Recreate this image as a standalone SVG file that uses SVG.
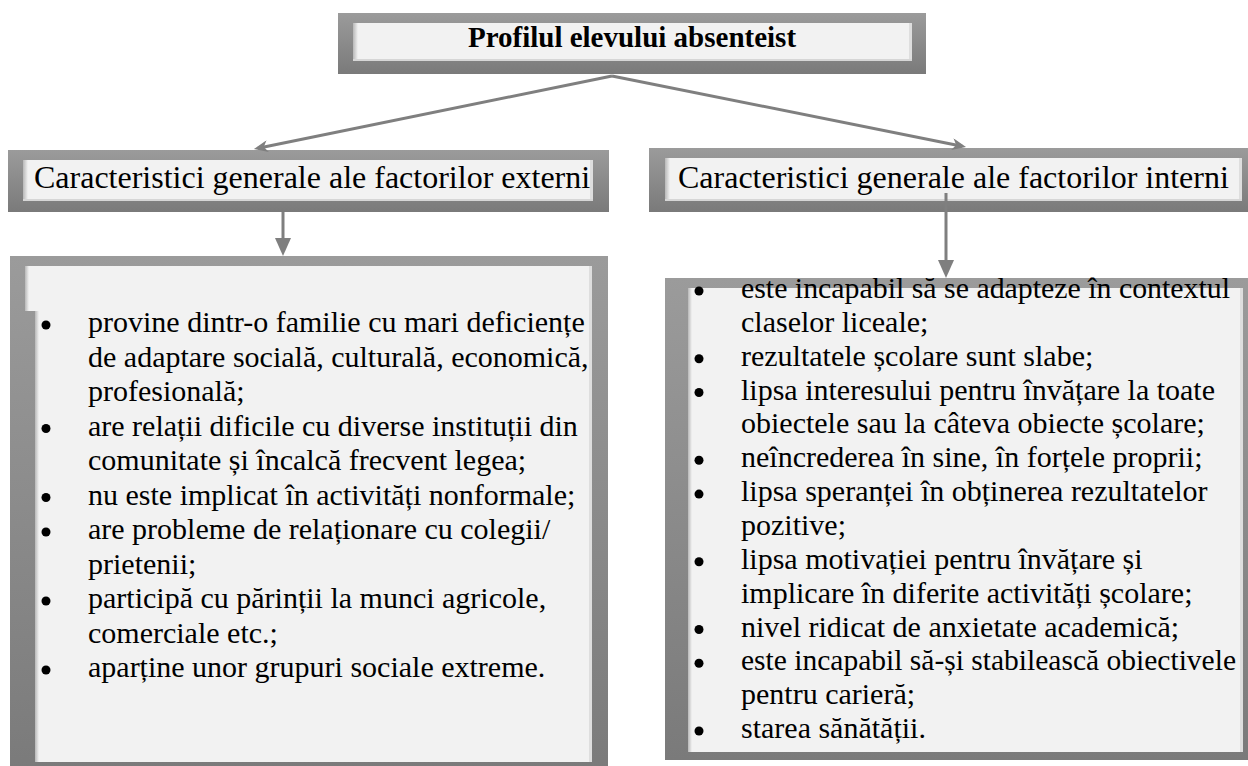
<svg xmlns="http://www.w3.org/2000/svg" width="1248" height="766" viewBox="0 0 1248 766">
<defs>
<linearGradient id="gOuter" x1="0" y1="0" x2="0" y2="1">
<stop offset="0" stop-color="#9b9b9b"/>
<stop offset="1" stop-color="#7a7a7a"/>
</linearGradient>
<linearGradient id="gShadeL" x1="0" y1="0" x2="1" y2="0">
<stop offset="0" stop-color="#b8b8b8"/>
<stop offset="1" stop-color="#f2f2f2"/>
</linearGradient>
<marker id="mDiag" markerUnits="userSpaceOnUse" viewBox="0 0 14 12" refX="10" refY="6" markerWidth="14" markerHeight="12" orient="auto">
<path d="M0,0 L14,6 L0,12 L4,6 z" fill="#7f7f7f"/>
</marker>
<marker id="mDown" markerUnits="userSpaceOnUse" viewBox="0 0 18 16" refX="12" refY="8" markerWidth="18" markerHeight="16" orient="auto">
<path d="M0,0 L18,8 L0,16 z" fill="#7f7f7f"/>
</marker>
</defs>
<style>
.outer{fill:url(#gOuter)}
.inner{fill:#f2f2f2}
.shl{fill:url(#gShadeL)}
.shb{fill:#d6d6d6}
.shr{fill:#dedede}
text{font-family:'Liberation Serif','Times New Roman',Times,serif;fill:#000}
.title{font-size:29px;font-weight:bold;text-anchor:middle}
.hdr{font-size:32px}
.li{font-size:30px}
.bul{fill:#000}
.conn{fill:none;stroke:#7f7f7f;stroke-width:3}
</style>
<rect width="1248" height="766" fill="#fff"/>

<g id="title">
<rect class="outer" x="338" y="13" width="588" height="61"/>
<rect class="inner" x="353" y="23" width="559" height="38"/>
<rect class="shl" x="353" y="23" width="5" height="38"/>
<rect class="shr" x="909" y="23" width="3" height="38"/>
<rect class="shb" x="353" y="59" width="559" height="2"/>
<text class="title" x="632" y="47">Profilul elevului absenteist</text>
</g>

<g id="ext-header">
<rect class="outer" x="8" y="150" width="601" height="62"/>
<rect class="inner" x="23" y="160" width="570" height="41"/>
<rect class="shl" x="23" y="160" width="5" height="41"/>
<rect class="shr" x="590" y="160" width="3" height="41"/>
<rect class="shb" x="23" y="199" width="570" height="2"/>
<text class="hdr" x="34" y="188">Caracteristici generale ale factorilor externi</text>
</g>

<g id="int-header">
<rect class="outer" x="649" y="148" width="608" height="64"/>
<rect class="inner" x="665" y="158" width="577" height="43"/>
<rect class="shl" x="665" y="158" width="5" height="43"/>
<rect class="shr" x="1239" y="158" width="3" height="43"/>
<rect class="shb" x="665" y="199" width="577" height="2"/>
<text class="hdr" x="678" y="188">Caracteristici generale ale factorilor interni</text>
</g>

<g id="ext-list">
<rect class="outer" x="10" y="256" width="598" height="520"/>
<path class="inner" d="M25,266 H592 V762 H35 V311 H25 Z"/>
<rect class="shl" x="25" y="266" width="4" height="45"/>
<rect class="shl" x="35" y="311" width="4" height="451"/>
<rect class="shr" x="589" y="266" width="3" height="496"/>
<g class="bul">
<circle cx="46" cy="325" r="4.5"/>
<circle cx="46" cy="428.5" r="4.5"/>
<circle cx="46" cy="497.5" r="4.5"/>
<circle cx="46" cy="532" r="4.5"/>
<circle cx="46" cy="601" r="4.5"/>
<circle cx="46" cy="670" r="4.5"/>
</g>
<text class="li" x="88" y="332">provine dintr-o familie cu mari deficiențe</text>
<text class="li" x="88" y="366.5">de adaptare socială, culturală, economică,</text>
<text class="li" x="88" y="401">profesională;</text>
<text class="li" x="88" y="435.5">are relații dificile cu diverse instituții din</text>
<text class="li" x="88" y="470">comunitate și încalcă frecvent legea;</text>
<text class="li" x="88" y="504.5">nu este implicat în activități nonformale;</text>
<text class="li" x="88" y="539">are probleme de relaționare cu colegii/</text>
<text class="li" x="88" y="573.5">prietenii;</text>
<text class="li" x="88" y="608">participă cu  părinții la munci agricole,</text>
<text class="li" x="88" y="642.5">comerciale etc.;</text>
<text class="li" x="88" y="677">aparține unor grupuri sociale extreme.</text>
</g>

<g id="int-list">
<rect class="outer" x="665" y="278" width="592" height="482"/>
<rect class="inner" x="688" y="288" width="555" height="464"/>
<rect class="shl" x="688" y="288" width="4" height="464"/>
<rect class="shr" x="1240" y="288" width="3" height="464"/>
<g class="bul">
<circle cx="699" cy="291" r="4.5"/>
<circle cx="699" cy="358.7" r="4.5"/>
<circle cx="699" cy="392.5" r="4.5"/>
<circle cx="699" cy="460.2" r="4.5"/>
<circle cx="699" cy="494.1" r="4.5"/>
<circle cx="699" cy="561.8" r="4.5"/>
<circle cx="699" cy="629.5" r="4.5"/>
<circle cx="699" cy="663.3" r="4.5"/>
<circle cx="699" cy="731" r="4.5"/>
</g>
<text class="li" x="741" y="298" textLength="489" lengthAdjust="spacingAndGlyphs">este incapabil să se adapteze în contextul</text>
<text class="li" x="741" y="331.9">claselor liceale;</text>
<text class="li" x="741" y="365.7">rezultatele școlare sunt slabe;</text>
<text class="li" x="741" y="399.6">lipsa interesului pentru învățare la toate</text>
<text class="li" x="741" y="433.4">obiectele sau la câteva obiecte școlare;</text>
<text class="li" x="741" y="467.2">neîncrederea în sine, în forțele proprii;</text>
<text class="li" x="741" y="501.1">lipsa speranței în obținerea rezultatelor</text>
<text class="li" x="741" y="534.9">pozitive;</text>
<text class="li" x="741" y="568.8">lipsa motivației pentru învățare și</text>
<text class="li" x="741" y="602.6">implicare în diferite activități școlare;</text>
<text class="li" x="741" y="636.5">nivel ridicat de anxietate academică;</text>
<text class="li" x="741" y="670.3" textLength="495" lengthAdjust="spacingAndGlyphs">este incapabil să-și stabilească obiectivele</text>
<text class="li" x="741" y="704.2">pentru carieră;</text>
<text class="li" x="741" y="738">starea sănătății.</text>
</g>

<g id="connectors">
<path class="conn" d="M612,76 L257.9,148.2" marker-end="url(#mDiag)"/>
<path class="conn" d="M612,76 L962.1,146.2" marker-end="url(#mDiag)"/>
<path class="conn" d="M283,212 V250" marker-end="url(#mDown)"/>
<path class="conn" d="M946,193 V272" marker-end="url(#mDown)"/>
</g>
</svg>
